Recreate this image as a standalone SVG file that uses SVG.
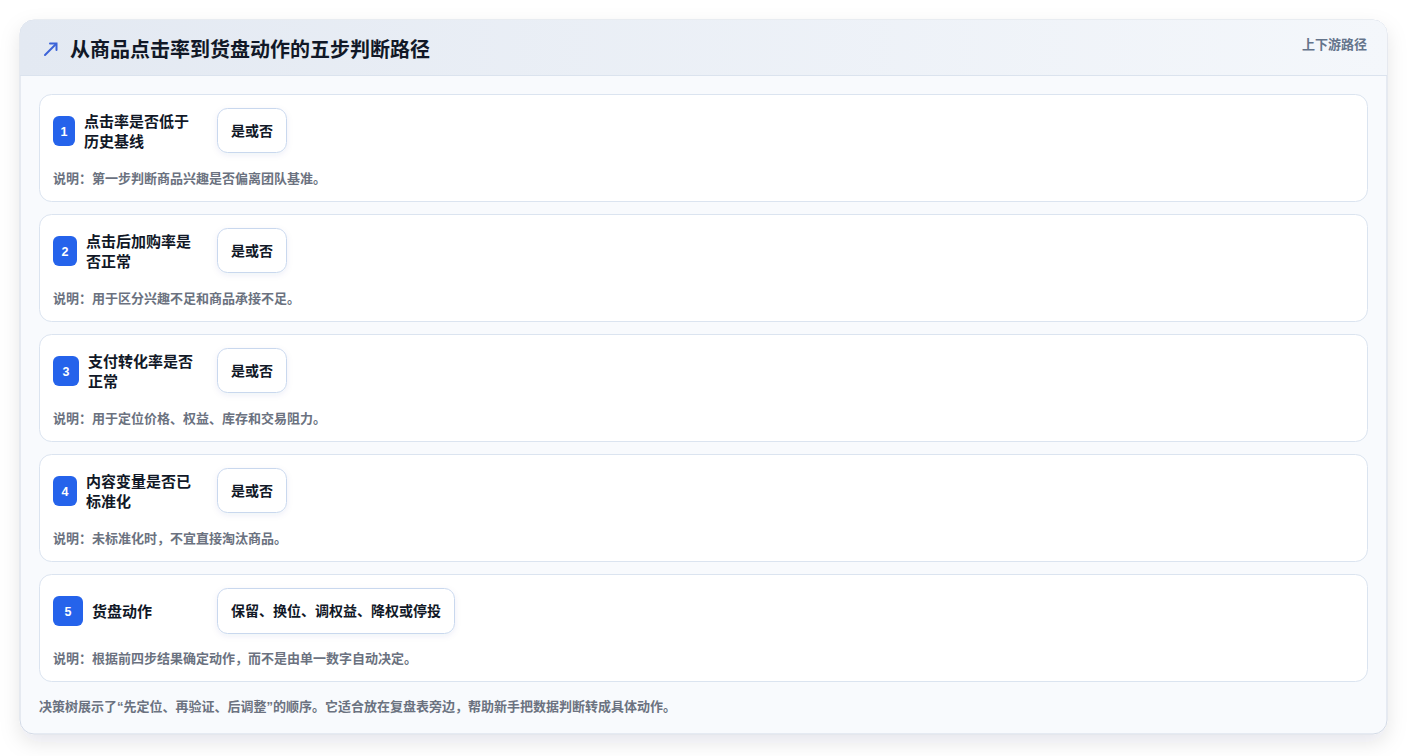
<svg xmlns="http://www.w3.org/2000/svg" width="1408" height="756" viewBox="0 0 1408 756">
<defs>
<linearGradient id="hdr" x1="0" y1="0" x2="1" y2="0">
<stop offset="0" stop-color="#e3e9f2"/>
<stop offset="1" stop-color="#f4f7fb"/>
</linearGradient>
<filter id="shadow" x="-5%" y="-5%" width="110%" height="115%">
<feDropShadow dx="0" dy="8" stdDeviation="10" flood-color="#0f172a" flood-opacity="0.1"/>
</filter>
<filter id="pshadow" x="-20%" y="-20%" width="140%" height="160%">
<feDropShadow dx="0" dy="2" stdDeviation="3" flood-color="#1e3a8a" flood-opacity="0.07"/>
</filter>
<clipPath id="cardclip"><rect x="20" y="20" width="1367" height="714" rx="14"/></clipPath>
<style>
text{font-family:"Liberation Sans","Noto Sans CJK SC",sans-serif;}
.title{font-size:20px;font-weight:700;fill:#111827;}
.tag{font-size:13px;font-weight:700;fill:#64748b;}
.row{fill:#ffffff;stroke:#dbe4f0;stroke-width:1;}
.badge{fill:#2563eb;}
.num{font-size:12.5px;font-weight:700;fill:#ffffff;text-anchor:middle;}
.lbl{font-size:15px;font-weight:700;fill:#111827;}
.pill{fill:#ffffff;stroke:#c9d8ee;stroke-width:1;}
.ptxt{font-size:14px;font-weight:700;fill:#111827;text-anchor:middle;}
.desc{font-size:13px;font-weight:700;fill:#6b7280;}
</style>
</defs>
<rect width="1408" height="756" fill="#ffffff"/>
<g id="card">
<rect x="20" y="20" width="1367" height="714" rx="14" fill="#f8fafd" stroke="#d3dae6" filter="url(#shadow)"/>
<g clip-path="url(#cardclip)">
<rect x="20" y="20" width="1367" height="55" fill="url(#hdr)"/>
</g>
<line x1="20" y1="75.5" x2="1387" y2="75.5" stroke="#dbe3ee"/>
<g id="title-icon" stroke="#3b63d8" stroke-width="2" fill="none" stroke-linecap="round">
<line x1="45" y1="55" x2="56" y2="44"/>
<polyline points="50,43.5 56.5,43.5 56.5,50"/>
</g>
<text class="title" x="70" y="57">从商品点击率到货盘动作的五步判断路径</text>
<text class="tag" x="1367" y="48.5" text-anchor="end">上下游路径</text>
</g>
<g id="step1">
<rect class="row" x="39.5" y="94.5" width="1328" height="107" rx="12"/>
<rect class="badge" x="53" y="116" width="22" height="30" rx="6"/>
<text class="num" x="64" y="135.5">1</text>
<text class="lbl" x="84" y="127">点击率是否低于</text>
<text class="lbl" x="84" y="147">历史基线</text>
<rect class="pill" x="217.5" y="108.5" width="69" height="44" rx="10" filter="url(#pshadow)"/>
<text class="ptxt" x="252" y="135.5">是或否</text>
<text class="desc" x="53" y="183">说明：第一步判断商品兴趣是否偏离团队基准。</text>
</g>
<g id="step2">
<rect class="row" x="39.5" y="214.5" width="1328" height="107" rx="12"/>
<rect class="badge" x="53" y="236" width="24" height="30" rx="6"/>
<text class="num" x="65" y="255.5">2</text>
<text class="lbl" x="86" y="247">点击后加购率是</text>
<text class="lbl" x="86" y="267">否正常</text>
<rect class="pill" x="217.5" y="228.5" width="69" height="44" rx="10" filter="url(#pshadow)"/>
<text class="ptxt" x="252" y="255.5">是或否</text>
<text class="desc" x="53" y="303">说明：用于区分兴趣不足和商品承接不足。</text>
</g>
<g id="step3">
<rect class="row" x="39.5" y="334.5" width="1328" height="107" rx="12"/>
<rect class="badge" x="53" y="356" width="26" height="30" rx="6"/>
<text class="num" x="66" y="375.5">3</text>
<text class="lbl" x="88" y="367">支付转化率是否</text>
<text class="lbl" x="88" y="387">正常</text>
<rect class="pill" x="217.5" y="348.5" width="69" height="44" rx="10" filter="url(#pshadow)"/>
<text class="ptxt" x="252" y="375.5">是或否</text>
<text class="desc" x="53" y="423">说明：用于定位价格、权益、库存和交易阻力。</text>
</g>
<g id="step4">
<rect class="row" x="39.5" y="454.5" width="1328" height="107" rx="12"/>
<rect class="badge" x="53" y="476" width="24" height="30" rx="6"/>
<text class="num" x="65" y="495.5">4</text>
<text class="lbl" x="86" y="487">内容变量是否已</text>
<text class="lbl" x="86" y="507">标准化</text>
<rect class="pill" x="217.5" y="468.5" width="69" height="44" rx="10" filter="url(#pshadow)"/>
<text class="ptxt" x="252" y="495.5">是或否</text>
<text class="desc" x="53" y="543">说明：未标准化时，不宜直接淘汰商品。</text>
</g>
<g id="step5">
<rect class="row" x="39.5" y="574.5" width="1328" height="107" rx="12"/>
<rect class="badge" x="53" y="596" width="30" height="30" rx="6"/>
<text class="num" x="68" y="615.5">5</text>
<text class="lbl" x="92" y="617">货盘动作</text>
<rect class="pill" x="217.5" y="588.5" width="237" height="45" rx="10" filter="url(#pshadow)"/>
<text class="ptxt" x="336" y="615.5">保留、换位、调权益、降权或停投</text>
<text class="desc" x="53" y="663">说明：根据前四步结果确定动作，而不是由单一数字自动决定。</text>
</g>
<g id="connectors"></g>
<text class="desc" x="39" y="711">决策树展示了“先定位、再验证、后调整”的顺序。它适合放在复盘表旁边，帮助新手把数据判断转成具体动作。</text>
</svg>
